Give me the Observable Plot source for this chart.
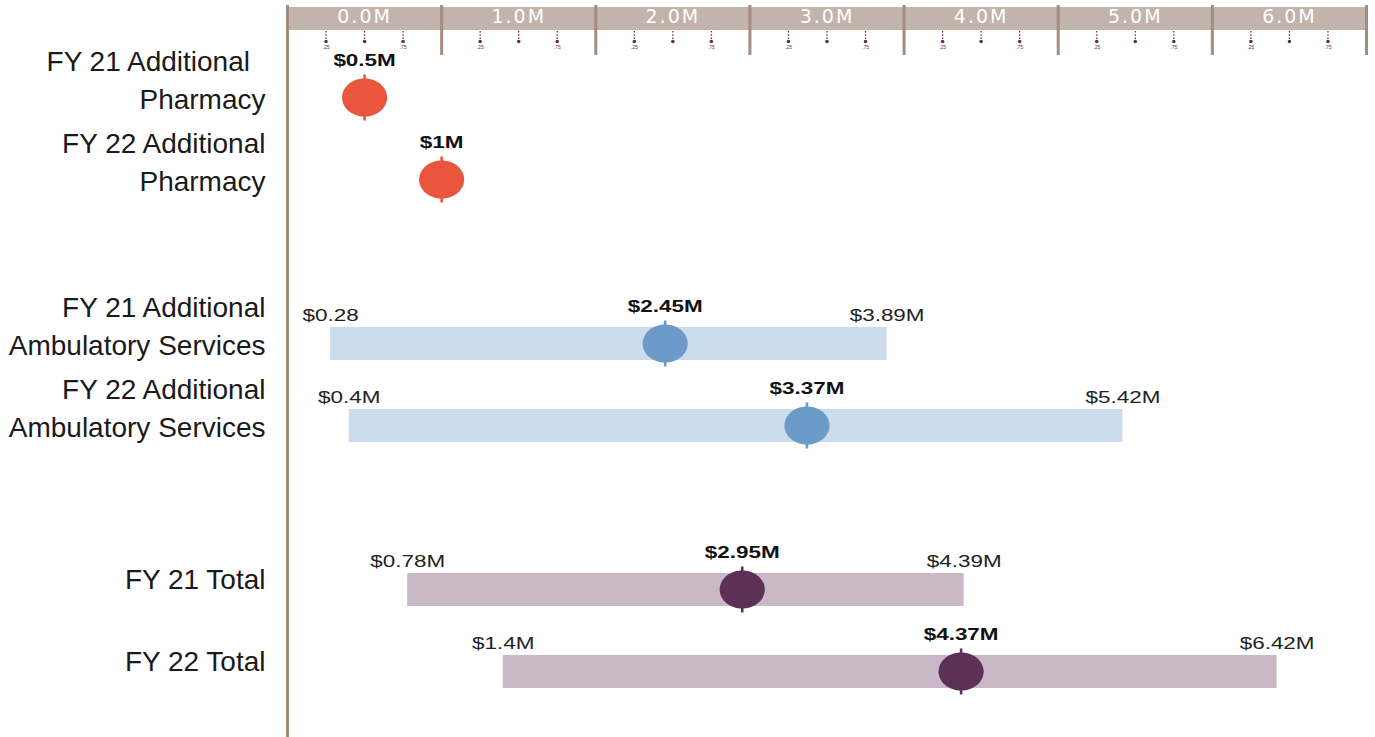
<!DOCTYPE html>
<html>
<head>
<meta charset="utf-8">
<script src="https://cdn.jsdelivr.net/npm/d3@7"></script>
<script src="https://cdn.jsdelivr.net/npm/@observablehq/plot@0.6"></script>
<style>
  html, body { margin: 0; padding: 0; background: #ffffff; }
  #chart svg { display: block; }
</style>
</head>
<body>
<div id="chart"></div>
<script>
// ---- data ----
const categories = [
  "FY 21 Additional Pharmacy",
  "FY 22 Additional Pharmacy",
  "FY 21 Additional Ambulatory Services",
  "FY 22 Additional Ambulatory Services",
  "FY 21 Total",
  "FY 22 Total"
];
const rowLabels = [
  "FY 21 Additional\u00a0\u00a0\nPharmacy",
  "FY 22 Additional\nPharmacy",
  "FY 21 Additional\nAmbulatory Services",
  "FY 22 Additional\nAmbulatory Services",
  "FY 21 Total",
  "FY 22 Total"
];
const groups = ["Pharmacy", "Pharmacy", "Ambulatory", "Ambulatory", "Total", "Total"];
const estimates = [0.5, 1, 2.45, 3.37, 2.95, 4.37];
const estimateLabels = ["$0.5M", "$1M", "$2.45M", "$3.37M", "$2.95M", "$4.37M"];
const lows = [null, null, 0.28, 0.4, 0.78, 1.4];
const highs = [null, null, 3.89, 5.42, 4.39, 6.42];
const lowLabels = [null, null, "$0.28", "$0.4M", "$0.78M", "$1.4M"];
const highLabels = [null, null, "$3.89M", "$5.42M", "$4.39M", "$6.42M"];
const majorTicks = [0, 1, 2, 3, 4, 5, 6];
const majorTickLabels = ["0.0M", "1.0M", "2.0M", "3.0M", "4.0M", "5.0M", "6.0M"];
const minorOffsets = [0.25, 0.5, 0.75];
const minorLabels = [".25", "", ".75"];

// ---- styles ----
const dotColors = {Pharmacy: "#ea553e", Ambulatory: "#6c9bc9", Total: "#5d3157"};
const barColors = {Ambulatory: "#cddcec", Total: "#c9b8c6"};
const axisBand = "#c2b3ab";
const axisLine = "#a48d80";

const data = categories.map((c, i) => ({
  row: c, label: rowLabels[i], group: groups[i], est: estimates[i], estLabel: estimateLabels[i],
  low: lows[i], high: highs[i], lowLabel: lowLabels[i], highLabel: highLabels[i]
}));
const ranged = data.filter(d => d.low != null);
const yDomain = [categories[0], categories[1], " ", categories[2], categories[3], "  ", categories[4], categories[5]];
const sections = majorTicks.map(k => ({k, end: k + 1}));
const dividers = majorTicks.map(k => k + 1);
const minor = majorTicks.flatMap(k => minorOffsets.map((f, j) => ({x: k + f, label: minorLabels[j]})));

const H = 737;
const ellipse = {
  draw(ctx, size) {
    const r = Math.sqrt(size / Math.PI);
    const rx = r * 1.1, ry = r * 0.93, k = 0.5523;
    ctx.moveTo(rx, 0);
    ctx.bezierCurveTo(rx, ry * k, rx * k, ry, 0, ry);
    ctx.bezierCurveTo(-rx * k, ry, -rx, ry * k, -rx, 0);
    ctx.bezierCurveTo(-rx, -ry * k, -rx * k, -ry, 0, -ry);
    ctx.bezierCurveTo(rx * k, -ry, rx, -ry * k, rx, 0);
    ctx.closePath();
  }
};
// thin vertical stem drawn through each estimate
const stem = {
  draw(ctx, size) {
    const r = Math.sqrt(size / Math.PI);
    const hw = 1.3, hh = r;
    ctx.moveTo(-hw, -hh);
    ctx.lineTo(hw, -hh);
    ctx.lineTo(hw, hh);
    ctx.lineTo(-hw, hh);
    ctx.closePath();
  }
};

const chart = Plot.plot({
  width: 1375,
  height: H,
  marginLeft: 287,
  marginRight: 9,
  marginTop: 5,
  marginBottom: 0,
  x: {domain: [0, 7], axis: null},
  y: {type: "point", domain: yDomain, range: [97, 671], padding: 0, axis: null},
  color: {type: "identity"},
  style: {fontFamily: "'Liberation Sans', Arial, sans-serif", background: "transparent", overflow: "visible"},
  marks: [
    // top axis band
    Plot.rect(sections, {x1: "k", x2: "end", fill: axisBand, insetTop: 2, insetBottom: H - 30}),
    Plot.ruleX(dividers, {stroke: axisLine, strokeWidth: 3, insetBottom: H - 55}),
    Plot.ruleX([0], {stroke: axisLine, strokeWidth: 3}),
    Plot.text(sections, {x: d => d.k + 0.5, text: (d, i) => majorTickLabels[i], frameAnchor: "top", lineAnchor: "middle", dy: 11,
      fill: "#ffffff", fontSize: 19, fontFamily: "'DejaVu Sans', Lato, sans-serif"}),
    // minor ticks
    Plot.ruleX(minor, {x: "x", stroke: "#5d3157", strokeWidth: 1.3, strokeDasharray: "1.6,1.6", insetTop: 26, insetBottom: H - 41}),
    Plot.dot(minor, {x: "x", frameAnchor: "top", dy: 36, r: 1.8, fill: "#5d3157"}),
    Plot.text(minor, {x: "x", text: "label", frameAnchor: "top", dy: 40, fontSize: 5, fill: "#5d3157"}),
    // range bars
    Plot.ruleY(ranged, {x1: "low", x2: "high", y: "row", stroke: d => barColors[d.group], strokeWidth: 33}),
    // stems through estimate dots
    Plot.dot(data, {x: "est", y: "row", r: 23, symbol: stem, fill: d => dotColors[d.group], stroke: "none"}),
    Plot.dot(data, {x: "est", y: "row", r: 20.5, symbol: ellipse, fill: d => dotColors[d.group], stroke: "none"}),
    // value labels
    Plot.text(data, {x: "est", y: "row", text: "estLabel", dy: -37, fontSize: 17, fontWeight: "bold", fill: "#111111"}),
    Plot.text(ranged, {x: "low", y: "row", text: "lowLabel", dy: -28, fontSize: 17, fill: "#222222"}),
    Plot.text(ranged, {x: "high", y: "row", text: "highLabel", dy: -28, fontSize: 17, fill: "#222222"}),
    // row labels
    Plot.text(data.filter(d => d.label.includes("\n")), {x: 0, y: "row", text: "label", textAnchor: "end", dx: -22, dy: -20,
      lineAnchor: "middle", lineHeight: 1.39, fontSize: 28, fill: "#1a1a1a"}),
    Plot.text(data.filter(d => !d.label.includes("\n")), {x: 0, y: "row", text: "label", textAnchor: "end", dx: -22, dy: -9,
      lineAnchor: "middle", fontSize: 28, fill: "#1a1a1a"})
  ]
});

document.getElementById("chart").appendChild(chart);

// widen the value labels and axis labels like the reference lettering
d3.select(chart).selectAll("text").each(function () {
  const t = this.textContent;
  if (/^\$/.test(t)) {
    const len = this.getComputedTextLength();
    this.setAttribute("textLength", (len * 1.32).toFixed(1));
    this.setAttribute("lengthAdjust", "spacingAndGlyphs");
  } else if (/^\d\.0M$/.test(t)) {
    this.setAttribute("letter-spacing", "2");
  }
});
</script>
</body>
</html>
